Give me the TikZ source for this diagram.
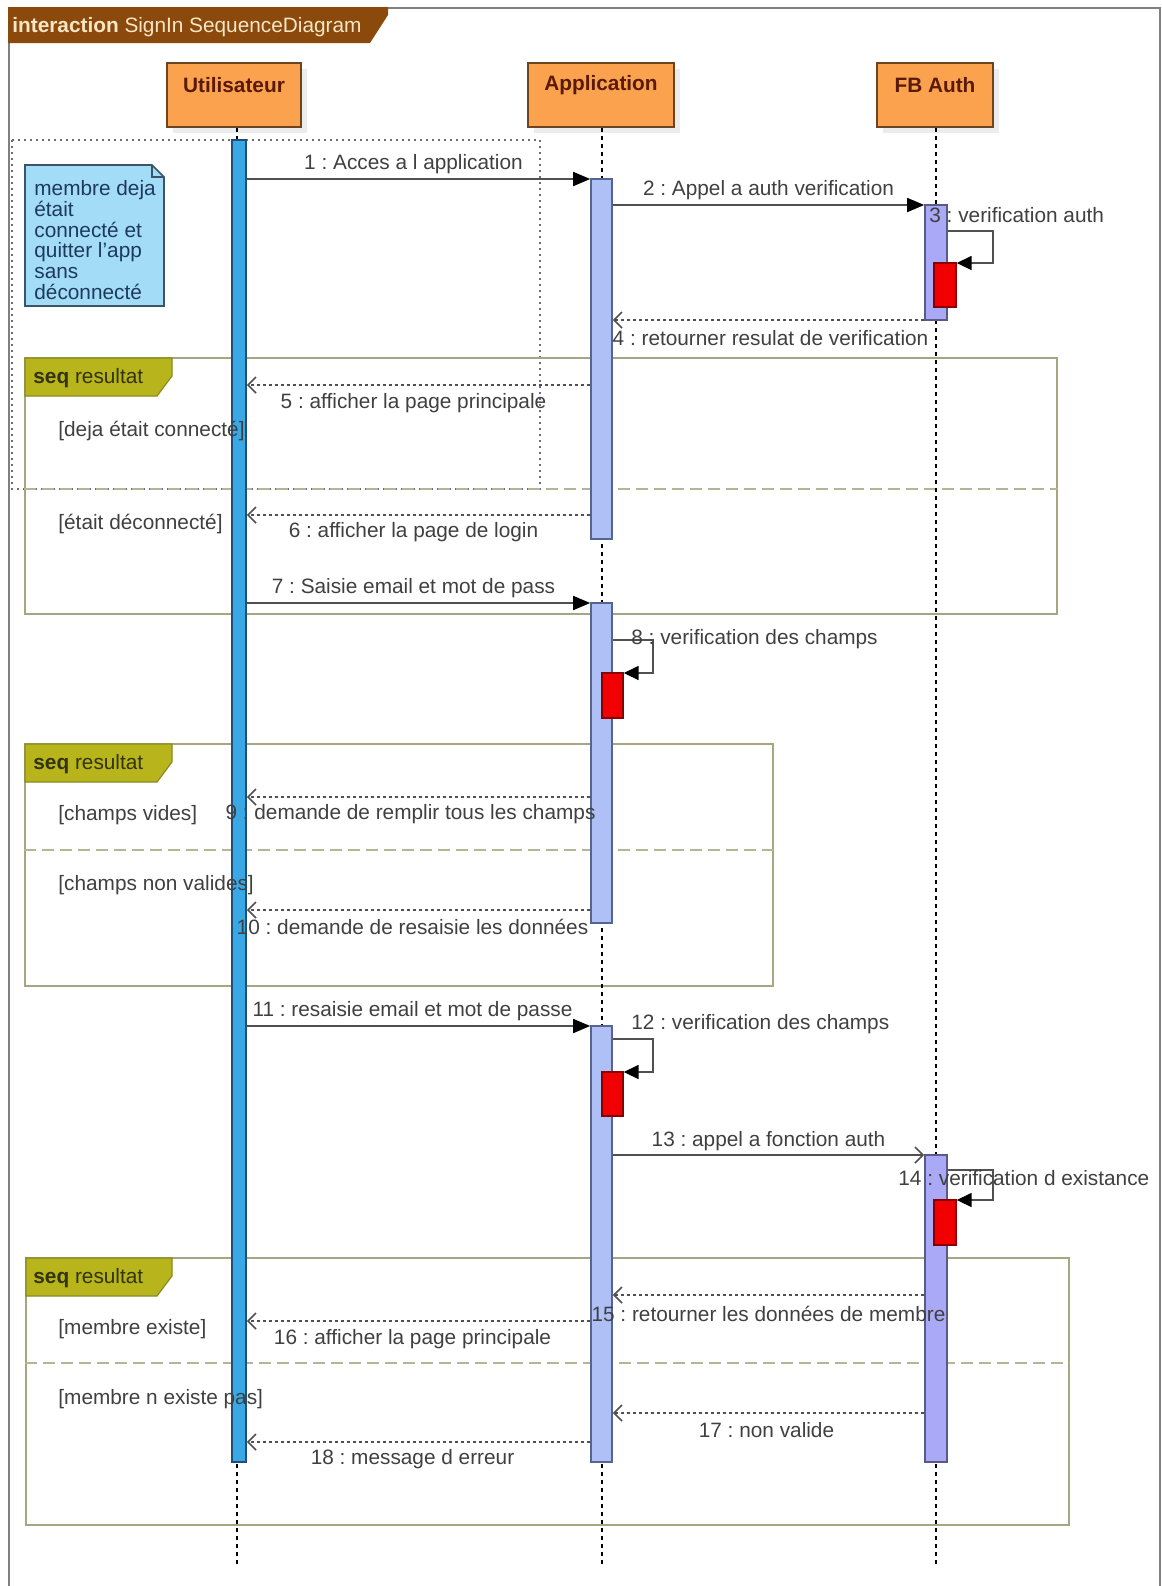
\documentclass[tikz,border=0pt]{standalone}
\usepackage{fontspec}
\setmainfont{Liberation Sans}
\usetikzlibrary{arrows.meta,fit}

\definecolor{framegrey}{HTML}{808080}
\definecolor{titlebrown}{HTML}{8B4A0C}
\definecolor{titletext}{HTML}{F6E6C6}
\definecolor{headfill}{HTML}{FBA24E}
\definecolor{headline}{HTML}{6E4420}
\definecolor{headtext}{HTML}{5A1A08}
\definecolor{userfill}{HTML}{3BA8E6}
\definecolor{userline}{HTML}{1F4F7A}
\definecolor{appfill}{HTML}{AFC0F7}
\definecolor{appline}{HTML}{56658F}
\definecolor{authfill}{HTML}{A9A9F5}
\definecolor{authline}{HTML}{5A5A86}
\definecolor{selffill}{HTML}{F00000}
\definecolor{selfline}{HTML}{880000}
\definecolor{notefill}{HTML}{A3DCF7}
\definecolor{noteline}{HTML}{3A5568}
\definecolor{notetext}{HTML}{1E3A5A}
\definecolor{dotline}{HTML}{6A6A8A}
\definecolor{fragline}{HTML}{A6A682}
\definecolor{fragsep}{HTML}{B4B496}
\definecolor{tabfill}{HTML}{B7B41C}
\definecolor{tabline}{HTML}{8A8A22}
\definecolor{tabtext}{HTML}{33330E}
\definecolor{msgtext}{HTML}{404040}
\definecolor{msgline}{HTML}{505050}
\definecolor{shadowgrey}{HTML}{ECECEC}

\newcommand{\txtsize}{\fontsize{10.4}{10.4}\selectfont\frenchspacing}

\begin{document}
\begin{tikzpicture}[x=0.5pt,y=-0.5pt,
  lbl/.style={font=\txtsize, text=msgtext, inner sep=0pt},
  guard/.style={font=\txtsize, text=msgtext, inner sep=0pt, anchor=west},
  sync/.style={draw=msgline, line width=0.85pt, -{Triangle[length=8.5pt,width=7pt,color=black,fill=black]}},
  async/.style={draw=msgline, line width=0.85pt, -{Straight Barb[length=4pt,width=8pt]}},
  reply/.style={draw=msgline, line width=0.85pt, dash pattern=on 1.5pt off 1.5pt, -{Straight Barb[length=4pt,width=8pt]}},
  selfmsg/.style={draw=msgline, line width=0.85pt, -{Triangle[length=7.5pt,width=7pt,color=black,fill=black]}},
  lifeline/.style={draw=black, line width=0.75pt, dash pattern=on 2.2pt off 1.8pt},
  headbox/.style={draw=headline, line width=1pt, fill=headfill, inner sep=0pt},
  headlbl/.style={font=\txtsize\bfseries, text=headtext, inner sep=0pt},
  actU/.style={draw=userline, line width=0.8pt, fill=userfill, inner sep=0pt},
  actA/.style={draw=appline, line width=0.8pt, fill=appfill, inner sep=0pt},
  actF/.style={draw=authline, line width=0.8pt, fill=authfill, inner sep=0pt},
  actS/.style={draw=selfline, line width=0.7pt, fill=selffill, inner sep=0pt},
  fragbox/.style={draw=fragline, line width=1pt, inner sep=0pt},
  fragdiv/.style={draw=fragsep, line width=1pt, dash pattern=on 6pt off 3pt},
  fragtab/.style={draw=tabline, line width=0.6pt, fill=tabfill},
  tablbl/.style={font=\txtsize, text=tabtext, inner sep=0pt, anchor=west}
]
\useasboundingbox (0,0) rectangle (1162,1586);
\fill[white] (0,0) rectangle (1162,1586);

% interaction frame (open at the bottom)
\draw[framegrey, line width=1pt] (9,1586) -- (9,8) -- (1160,8) -- (1160,1586);
\fill[titlebrown] (8,7) -- (388,7) -- (388,15) -- (370,43) -- (8,43) -- cycle;
\node[font=\txtsize, text=titletext, inner sep=0pt, anchor=west] (title) at (12,27)
  {\textbf{interaction} SignIn SequenceDiagram};

% dotted region around the first exchange
\draw[dotline, line width=1pt, dash pattern=on 1pt off 2pt] (12,140) rectangle (540,489);

% combined fragments
\node[fragbox, fit={(25,358) (1057,614)}] (f1) {};
\draw[fragdiv] (f1.west |- 0,489) -- (f1.east |- 0,489);
\draw[fragtab] (25,358) -- (172,358) -- (172,376) -- (157,396) -- (25,396) -- cycle;
\node[tablbl] (f1t) at (33,378) {\textbf{seq} resultat};

\node[fragbox, fit={(25,744) (773,986)}] (f2) {};
\draw[fragdiv] (f2.west |- 0,850) -- (f2.east |- 0,850);
\draw[fragtab] (25,744) -- (172,744) -- (172,762) -- (157,782) -- (25,782) -- cycle;
\node[tablbl] (f2t) at (33,764) {\textbf{seq} resultat};

\node[fragbox, fit={(26,1258) (1069,1525)}] (f3) {};
\draw[fragdiv] (f3.west |- 0,1363) -- (f3.east |- 0,1363);
\draw[fragtab] (26,1258) -- (172,1258) -- (172,1276) -- (157,1296) -- (26,1296) -- cycle;
\node[tablbl] (f3t) at (33,1278) {\textbf{seq} resultat};

% lifeline heads (with soft shadow)
\fill[shadowgrey] (173,69) rectangle (307,133);
\fill[shadowgrey] (534,69) rectangle (680,133);
\fill[shadowgrey] (883,69) rectangle (999,133);
\node[headbox, fit={(167,63) (301,127)}] (hU) {};
\node[headbox, fit={(528,63) (674,127)}] (hA) {};
\node[headbox, fit={(877,63) (993,127)}] (hF) {};
\node[headlbl] (hUt) at (hU.north |- 0,85) {Utilisateur};
\node[headlbl] (hAt) at (hA.north |- 0,85) {Application};
\node[headlbl] (hFt) at (hF.north |- 0,85) {FB Auth};

% lifelines
\coordinate (endU) at (237,1566);
\coordinate (endA) at (602,1566);
\coordinate (endF) at (936,1566);
\draw[lifeline] (hU.south -| endU) -- (endU);
\draw[lifeline] (hA.south -| endA) -- (endA);
\draw[lifeline] (hF.south -| endF) -- (endF);

% activation bars
\node[actU, fit={(232,140) (246,1462)}] (uA) {};
\node[actA, fit={(591,179) (612,539)}] (a1) {};
\node[actA, fit={(591,603) (612,923)}] (a2) {};
\node[actA, fit={(591,1026) (612,1462)}] (a3) {};
\node[actF, fit={(925,205) (947,320)}] (b1) {};
\node[actF, fit={(925,1155) (947,1462)}] (b2) {};
\node[actS, fit={(934,263) (956,307)}] (r1) {};
\node[actS, fit={(602,673) (623,718)}] (r2) {};
\node[actS, fit={(602,1072) (623,1116)}] (r3) {};
\node[actS, fit={(934,1200) (956,1245)}] (r4) {};

% note
\draw[noteline, fill=notefill, line width=0.8pt]
  (25,165) -- (152,165) -- (164,177) -- (164,306) -- (25,306) -- cycle;
\draw[noteline, line width=0.6pt] (152,165) -- (152,177) -- (164,177);
\node[font=\txtsize, text=notetext, inner sep=0pt, anchor=north west, align=left] (note) at (34,180)
  {membre deja\\était\\connecté et\\quitter l'app\\sans\\déconnecté};

% messages
\draw[sync] (uA.east |- 0,179) -- node[lbl, midway, yshift=7.5pt, xshift=-2.5pt] {1 : Acces a l application} (a1.west |- 0,179);
\draw[sync] (a1.east |- 0,205) -- node[lbl, midway, yshift=7.5pt] {2 : Appel a auth verification} (b1.west |- 0,205);
\draw[selfmsg] (b1.east |- 0,231) -- (993,231) -- (993,263) -- (r1.east |- 0,263);
\node[lbl, anchor=west] (l3) at (929,215) {3 : verification auth};
\draw[reply] (b1.west |- 0,320) -- node[lbl, midway, yshift=-9pt, xshift=1pt] {4 : retourner resulat de verification} (a1.east |- 0,320);
\draw[reply] (a1.west |- 0,385) -- node[lbl, midway, yshift=-9pt, xshift=-2.5pt] {5 : afficher la page principale} (uA.east |- 0,385);
\draw[reply] (a1.west |- 0,515) -- node[lbl, midway, yshift=-8.5pt, xshift=-2.5pt] {6 : afficher la page de login} (uA.east |- 0,515);
\draw[sync] (uA.east |- 0,603) -- node[lbl, midway, yshift=7.5pt, xshift=-2.5pt] {7 : Saisie email et mot de pass} (a2.west |- 0,603);
\draw[selfmsg] (a2.east |- 0,640) -- (653,640) -- (653,673) -- (r2.east |- 0,673);
\node[lbl, anchor=west] (l8) at (631,639) {8 : verification des champs};
\draw[reply] (a2.west |- 0,797) -- node[lbl, midway, yshift=-8.5pt, xshift=-4pt] {9 : demande de remplir tous les champs} (uA.east |- 0,797);
\draw[reply] (a2.west |- 0,910) -- node[lbl, midway, yshift=-8.5pt, xshift=-3pt] {10 : demande de resaisie les données} (uA.east |- 0,910);
\draw[sync] (uA.east |- 0,1026) -- node[lbl, midway, yshift=7.5pt, xshift=-3pt] {11 : resaisie email et mot de passe} (a3.west |- 0,1026);
\draw[selfmsg] (a3.east |- 0,1039) -- (653,1039) -- (653,1072) -- (r3.east |- 0,1072);
\node[lbl, anchor=west] (l12) at (631,1024) {12 : verification des champs};
\draw[async] (a3.east |- 0,1155) -- node[lbl, midway, yshift=7pt] {13 : appel a fonction auth} (b2.west |- 0,1155);
\draw[selfmsg] (b2.east |- 0,1170) -- (993,1170) -- (993,1200) -- (r4.east |- 0,1200);
\node[lbl, anchor=west] (l14) at (898,1178) {14 : verification d existance};
\draw[reply] (b2.west |- 0,1295) -- node[lbl, midway, yshift=-9.5pt] {15 : retourner les données de membre} (a3.east |- 0,1295);
\draw[reply] (a3.west |- 0,1321) -- node[lbl, midway, yshift=-9pt, xshift=-3pt] {16 : afficher la page principale} (uA.east |- 0,1321);
\draw[reply] (b2.west |- 0,1413) -- node[lbl, midway, yshift=-8.5pt, xshift=-1pt] {17 : non valide} (a3.east |- 0,1413);
\draw[reply] (a3.west |- 0,1442) -- node[lbl, midway, yshift=-8.5pt, xshift=-3pt] {18 : message d erreur} (uA.east |- 0,1442);

% guards
\node[guard] (g1) at (58,431) {[deja était connecté]};
\node[guard] (g2) at (58,524) {[était déconnecté]};
\node[guard] (g3) at (58,815) {[champs vides]};
\node[guard] (g4) at (58,885) {[champs non valides]};
\node[guard] (g5) at (58,1329) {[membre existe]};
\node[guard] (g6) at (58,1399) {[membre n existe pas]};
\end{tikzpicture}
\end{document}
